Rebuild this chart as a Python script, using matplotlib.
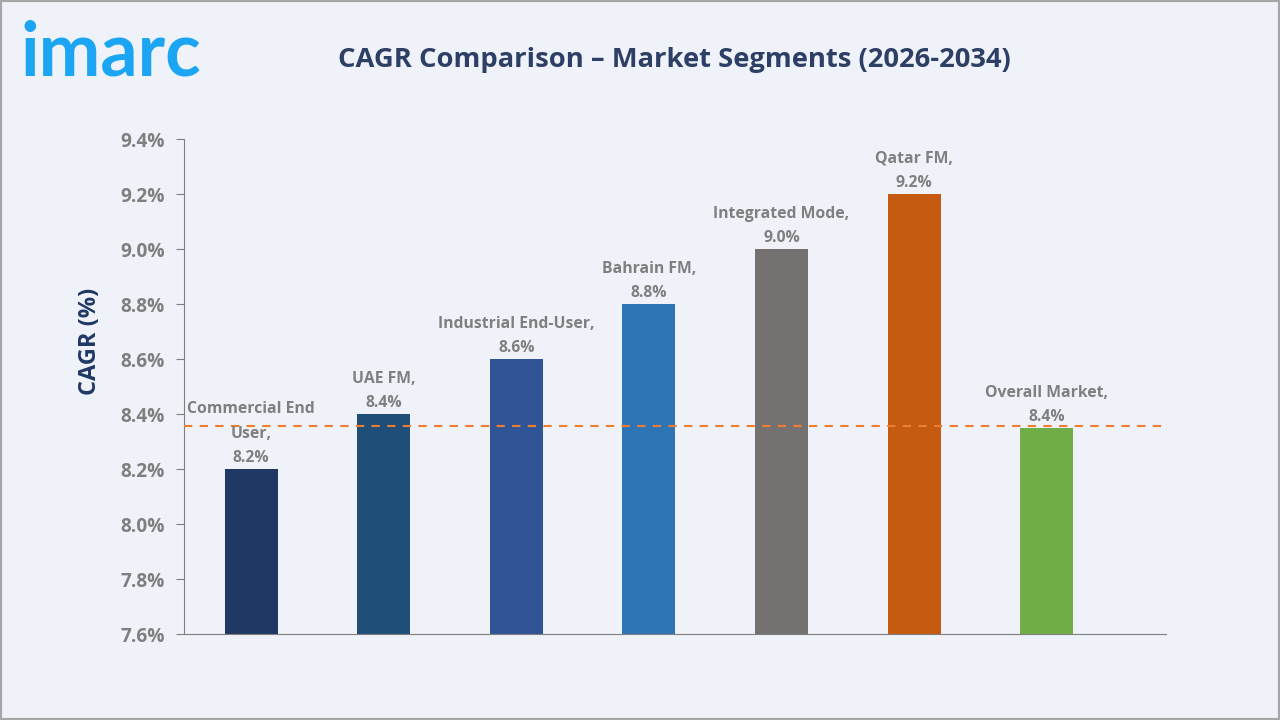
import matplotlib
matplotlib.use("Agg")
import matplotlib.pyplot as plt
from matplotlib.patches import Rectangle

categories = ["Commercial End\nUser", "UAE FM", "Industrial End-User", "Bahrain FM",
              "Integrated Mode", "Qatar FM", "Overall Market"]
values = [8.2, 8.4, 8.6, 8.8, 9.0, 9.2, 8.35]
value_labels = ["8.2%", "8.4%", "8.6%", "8.8%", "9.0%", "9.2%", "8.4%"]
reference_line = 8.355
yticks = [7.6, 7.8, 8.0, 8.2, 8.4, 8.6, 8.8, 9.0, 9.2, 9.4]
ytick_labels = ["7.6%", "7.8%", "8.0%", "8.2%", "8.4%", "8.6%", "8.8%", "9.0%", "9.2%", "9.4%"]
colors = ["#203864", "#1f4e79", "#2f5597", "#2e75b6", "#767171", "#c55a11", "#70ad47"]

plt.rcParams['font.family'] = ['Open Sans', 'DejaVu Sans']

bg = "#eff3f9"
fig = plt.figure(figsize=(12.8, 7.2), dpi=100, facecolor=bg)
fig.patches.append(Rectangle((0, 0), 1, 1, transform=fig.transFigure, fill=False,
                             edgecolor="#a6a6a6", linewidth=3))

ax = fig.add_axes([0.14375, 0.1194, 0.7672, 0.6875])
ax.set_facecolor(bg)
x = list(range(len(categories)))
ax.bar(x, [v - 7.6 for v in values], bottom=7.6, width=0.4, color=colors, zorder=2)
ax.axhline(reference_line, color="#ed7d31", linestyle=(0, (4, 3.5)), linewidth=1.5, zorder=3)

ax.set_xlim(-0.506, 6.9)
ax.set_ylim(7.6, 9.4)
ax.set_yticks(yticks)
ax.set_yticklabels(ytick_labels, fontsize=13.8, color="#7f7f7f", fontweight="bold")
ax.set_xticks([])
ax.tick_params(axis='y', length=6, color="#7f7f7f", pad=8)
for s in ["top", "right"]:
    ax.spines[s].set_visible(False)
ax.spines["left"].set_color("#7f7f7f")
ax.spines["bottom"].set_color("#7f7f7f")

for xi, v, c, lab in zip(x, values, categories, value_labels):
    ax.annotate(f"{c},\n{lab}", (xi, v), xytext=(0, 2), textcoords="offset points",
                ha="center", va="bottom", fontsize=11.3, color="#7f7f7f",
                fontweight="bold", linespacing=1.7, zorder=4)

fig.text(90 / 1280, 1 - 341 / 720, "CAGR (%)", rotation=90, ha="center", va="center",
         fontsize=17, fontweight="bold", color="#1f3864")

fig.text(0.527, 0.916, "CAGR Comparison – Market Segments (2026-2034)", ha="center", va="center",
         fontsize=19.7, fontweight="bold", color="#2e3f66")
fig.text(0.016, 1 - 75 / 720, "imarc", ha="left", va="baseline", fontsize=53, fontweight="bold",
         color="#1ba5f3", family=["Lato", "DejaVu Sans"])

fig.savefig("out.png", dpi=100, facecolor=bg)
